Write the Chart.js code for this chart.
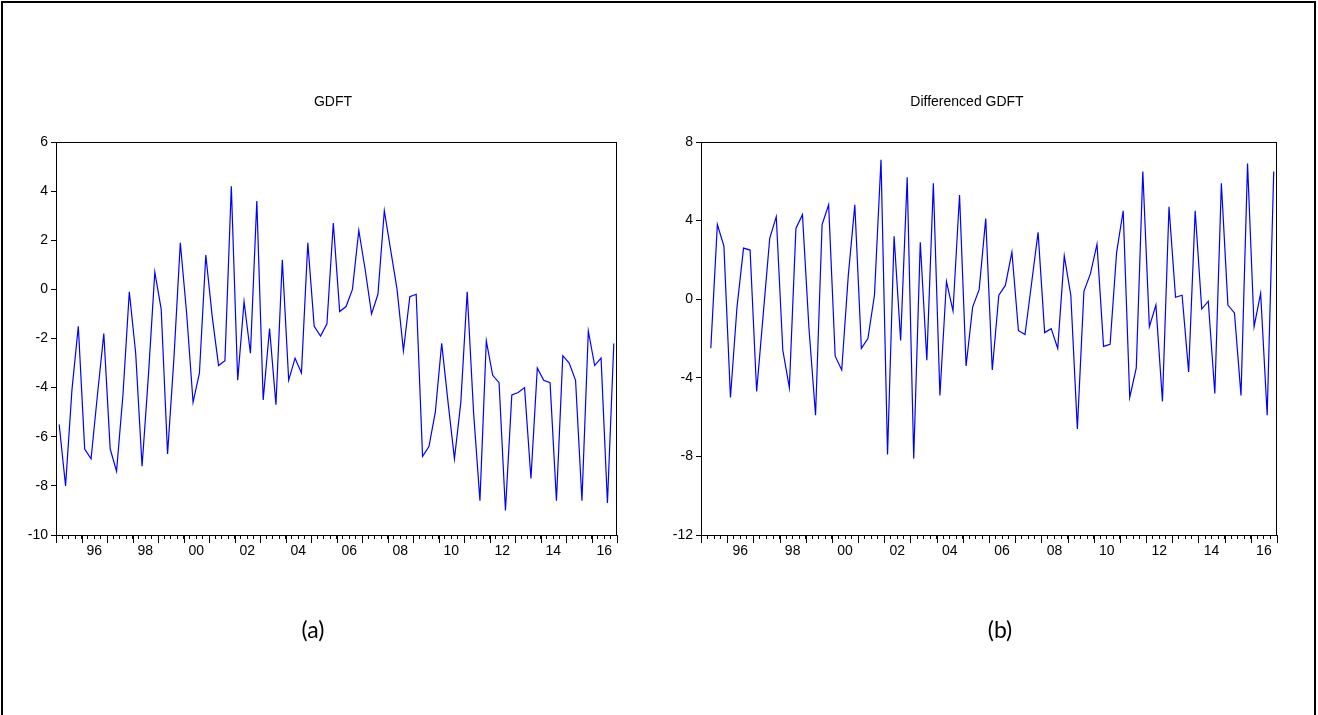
<!DOCTYPE html>
<html>
<head>
<meta charset="utf-8">
<script src="https://cdn.jsdelivr.net/npm/chart.js@4.4.1/dist/chart.umd.min.js"></script>
<style>
  html, body { margin: 0; padding: 0; background: #fff; }
  body { width: 1318px; height: 715px; position: relative; overflow: hidden; font-family: "Liberation Sans", Arial, sans-serif; }
  .frame { position: absolute; left: 1px; top: 1px; width: 1315px; height: 740px; border: 2px solid #000; box-sizing: border-box; }
  .panel { position: absolute; top: 0; width: 659px; height: 715px; }
  .title { position: absolute; top: 93px; font-size: 14px; color: #000; transform: translateX(-50%); white-space: nowrap; }
  .caption { position: absolute; top: 615px; font-family: Lato, "Open Sans", sans-serif; font-size: 23px; color: #000; transform: translateX(-50%); }
</style>
</head>
<body>
<div class="frame"></div>
<div class="panel" style="left:0"><canvas id="chartA" width="659" height="715"></canvas></div>
<div class="panel" style="left:659px"><canvas id="chartB" width="659" height="715"></canvas></div>
<div class="title" style="left:333px">GDFT</div>
<div class="title" style="left:967px">Differenced GDFT</div>
<div class="caption" style="left:313px">(a)</div>
<div class="caption" style="left:1000px">(b)</div>

<script>
// quarterly data, 1995Q1 - 2016Q4
const startYear = 1995;
const quarterCount = 88;

const gdft = [
  -5.5, -8.0, -4.1, -1.5, -6.5, -6.9, -4.3, -1.8,
  -6.5, -7.4, -4.3, -0.1, -2.6, -7.2, -3.5, 0.7,
  -0.8, -6.7, -2.8, 1.9, -1.0, -4.6, -3.4, 1.4,
  -1.1, -3.1, -2.9, 4.2, -3.7, -0.5, -2.6, 3.6,
  -4.5, -1.6, -4.7, 1.2, -3.7, -2.8, -3.4, 1.9,
  -1.5, -1.9, -1.4, 2.7, -0.9, -0.7, 0.0, 2.4,
  0.8, -1.0, -0.2, 3.2, 1.6, 0.0, -2.5, -0.3,
  -0.2, -6.8, -6.4, -5.0, -2.2, -4.6, -6.9, -4.6,
  -0.1, -5.0, -8.6, -2.1, -3.5, -3.8, -9.0, -4.3,
  -4.2, -4.0, -7.7, -3.2, -3.7, -3.8, -8.6, -2.7,
  -3.0, -3.7, -8.6, -1.7, -3.1, -2.8, -8.7, -2.2
];

const gdftDiff = [
  null, -2.5, 3.8, 2.7, -5.0, -0.4, 2.6, 2.5,
  -4.7, -0.8, 3.1, 4.2, -2.6, -4.5, 3.6, 4.3,
  -1.5, -5.9, 3.8, 4.8, -2.9, -3.6, 1.2, 4.8,
  -2.5, -2.0, 0.2, 7.1, -7.9, 3.2, -2.1, 6.2,
  -8.1, 2.9, -3.1, 5.9, -4.9, 0.9, -0.6, 5.3,
  -3.4, -0.4, 0.5, 4.1, -3.6, 0.2, 0.7, 2.4,
  -1.6, -1.8, 0.8, 3.4, -1.7, -1.5, -2.5, 2.2,
  0.2, -6.6, 0.4, 1.3, 2.8, -2.4, -2.3, 2.4,
  4.5, -5.0, -3.5, 6.5, -1.4, -0.3, -5.2, 4.7,
  0.1, 0.2, -3.7, 4.5, -0.5, -0.1, -4.8, 5.9,
  -0.3, -0.7, -4.9, 6.9, -1.4, 0.3, -5.9, 6.5
];

const gdftTicks = [-10, -8, -6, -4, -2, 0, 2, 4, 6];
const diffTicks = [-12, -8, -4, 0, 4, 8];
const yearLabels = ["96", "98", "00", "02", "04", "06", "08", "10", "12", "14", "16"];

// observation i sits in the middle of its quarter
function toPoints(values) {
  return values.map((v, i) => ({ x: startYear + (i + 0.5) / 4, y: v }));
}

const boxPlugin = {
  id: "box",
  afterDraw(chart) {
    const { ctx, chartArea } = chart;
    const xs = chart.scales.x;
    ctx.save();
    ctx.strokeStyle = "#000";
    ctx.lineWidth = 1;
    ctx.strokeRect(chartArea.left + 0.5, chartArea.top + 0.5,
      chartArea.right - chartArea.left - 1, chartArea.bottom - chartArea.top);
    // longer tick at each year start
    for (let yr = startYear; yr <= startYear + quarterCount / 4; yr++) {
      const px = Math.round(xs.getPixelForValue(yr)) + 0.5;
      ctx.beginPath();
      ctx.moveTo(px, chartArea.bottom);
      ctx.lineTo(px, chartArea.bottom + 8);
      ctx.stroke();
    }
    ctx.restore();
  }
};

function makeChart(id, values, yTicks, yWidth, padRight) {
  const yMin = yTicks[0];
  const yMax = yTicks[yTicks.length - 1];
  return new Chart(document.getElementById(id), {
    type: "line",
    data: {
      datasets: [{
        data: toPoints(values),
        borderColor: "#0000ff",
        borderWidth: 1.2,
        pointRadius: 0,
        tension: 0,
        fill: false,
        spanGaps: false
      }]
    },
    options: {
      responsive: false,
      animation: false,
      events: [],
      layout: { padding: { top: 142, right: padRight, bottom: 150, left: 0 } },
      plugins: { legend: { display: false }, tooltip: { enabled: false } },
      scales: {
        x: {
          type: "linear",
          min: startYear,
          max: startYear + quarterCount / 4,
          afterBuildTicks: (s) => {
            const t = [];
            for (let i = 0; i <= quarterCount; i++) t.push({ value: startYear + i / 4 });
            s.ticks = t;
          },
          afterFit: (s) => { s.height = 30; },
          grid: { drawOnChartArea: false, drawTicks: true, tickLength: 4, tickColor: "#000", tickWidth: 1 },
          border: { display: false },
          ticks: {
            autoSkip: false,
            maxRotation: 0,
            padding: 4,
            color: "#000",
            font: { family: "'Liberation Sans', Arial, sans-serif", size: 14 },
            callback: (v) => {
              const k = yearLabels.findIndex((lab, j) => Math.abs(v - (startYear + 1.5 + 2 * j)) < 1e-6);
              return k >= 0 ? yearLabels[k] : "";
            }
          }
        },
        y: {
          min: yMin,
          max: yMax,
          afterBuildTicks: (s) => { s.ticks = yTicks.map((v) => ({ value: v })); },
          afterFit: (s) => { s.width = yWidth; },
          grid: { drawOnChartArea: false, drawTicks: true, tickLength: 5, tickColor: "#000" },
          border: { display: false },
          ticks: {
            padding: 3,
            color: "#000",
            font: { family: "'Liberation Sans', Arial, sans-serif", size: 14 }
          }
        }
      }
    },
    plugins: [boxPlugin]
  });
}

makeChart("chartA", gdft, gdftTicks, 56, 42);
makeChart("chartB", gdftDiff, diffTicks, 42, 41);
</script>
</body>
</html>
